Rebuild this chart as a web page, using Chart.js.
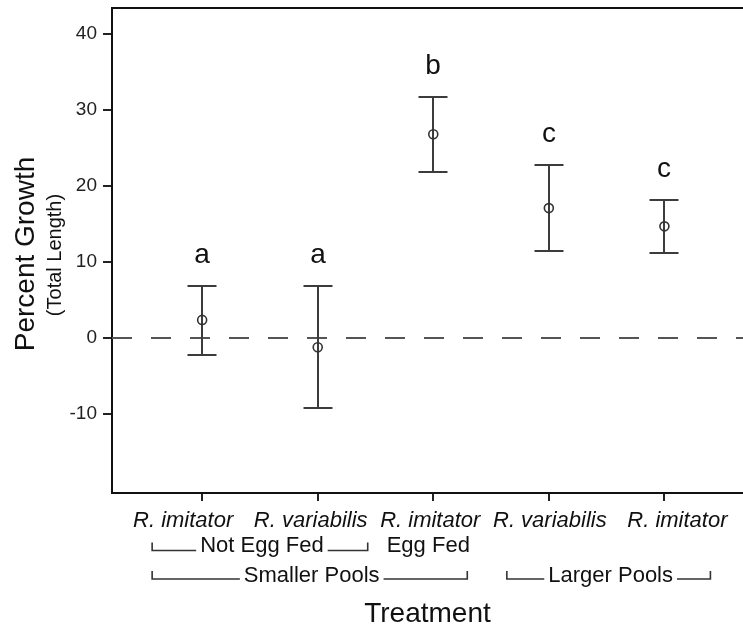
<!DOCTYPE html>
<html>
<head>
<meta charset="utf-8">
<script src="https://cdn.jsdelivr.net/npm/chart.js@4/dist/chart.umd.min.js"></script>
<style>
html,body{margin:0;padding:0;background:#fff;overflow:hidden;}
#wrap{position:relative;width:743px;height:625px;}
canvas{display:block;}
</style>
</head>
<body>
<div id="wrap"><canvas id="c"></canvas></div>
<script>
// ---- data ----
const treatments = ['R. imitator', 'R. variabilis', 'R. imitator', 'R. variabilis', 'R. imitator'];
const positions = [1, 2, 3, 4, 5];
const means = [2.4, -1.2, 26.8, 17.1, 14.7];
const upper = [6.9, 6.9, 31.7, 22.8, 18.1];
const lower = [-2.2, -9.2, 21.9, 11.4, 11.2];
const letters = ['a', 'a', 'b', 'c', 'c'];
const yTicks = [-10, 0, 10, 20, 30, 40];
const feedGroups = [
  { label: 'Not Egg Fed', first: 1, last: 2, bracket: true },
  { label: 'Egg Fed', first: 3, last: 3, bracket: false }
];
const poolGroups = [
  { label: 'Smaller Pools', first: 1, last: 3, bracket: true },
  { label: 'Larger Pools', first: 4, last: 5, bracket: true }
];
const yTitle = 'Percent Growth';
const ySubTitle = '(Total Length)';
const xTitle = 'Treatment';

// ---- layout / style (not data) ----
const FONT = "'Liberation Sans', Arial, sans-serif";
const labelDx = [-19, -7, -3, 1, 13];
const feedPad = [[-50, 50], [0, 0]];
const poolPad = [[-50, 34], [-42, 46]];
const feedTextDx = [2, -5];
const poolTextDx = [2, 2];

function zeroPad(s) {
  s.paddingLeft = 0; s.paddingRight = 0; s.paddingTop = 0; s.paddingBottom = 0;
}

const annot = {
  id: 'annot',
  beforeDatasetsDraw(chart) {
    const { ctx, chartArea: a, scales: { x, y } } = chart;
    ctx.save();
    // zero reference line
    ctx.strokeStyle = '#555';
    ctx.lineWidth = 2;
    ctx.setLineDash([20, 19]);
    const y0 = Math.round(y.getPixelForValue(0));
    ctx.beginPath();
    ctx.moveTo(a.left, y0);
    ctx.lineTo(a.right, y0);
    ctx.stroke();
    ctx.setLineDash([]);
    // error bars + letters
    ctx.strokeStyle = '#3c3c3c';
    ctx.lineWidth = 2;
    ctx.fillStyle = '#111';
    ctx.font = '28px ' + FONT;
    ctx.textAlign = 'center';
    ctx.textBaseline = 'alphabetic';
    positions.forEach((p, i) => {
      const px = Math.round(x.getPixelForValue(p));
      const yu = Math.round(y.getPixelForValue(upper[i]));
      const yl = Math.round(y.getPixelForValue(lower[i]));
      ctx.beginPath();
      ctx.moveTo(px, yu); ctx.lineTo(px, yl);
      ctx.moveTo(px - 14.5, yu); ctx.lineTo(px + 14.5, yu);
      ctx.moveTo(px - 14.5, yl); ctx.lineTo(px + 14.5, yl);
      ctx.stroke();
      ctx.fillText(letters[i], px, yu - 23);
    });
    ctx.restore();
  },
  afterDraw(chart) {
    const { ctx, chartArea: a, scales: { x } } = chart;
    ctx.save();
    ctx.fillStyle = '#111';
    ctx.textBaseline = 'alphabetic';
    ctx.textAlign = 'center';
    // category labels
    ctx.font = 'italic 22px ' + FONT;
    positions.forEach((p, i) => {
      ctx.fillText(treatments[i], x.getPixelForValue(p) + labelDx[i], 526.5);
    });
    // bracket rows
    ctx.font = '22px ' + FONT;
    ctx.strokeStyle = '#333';
    ctx.lineWidth = 1.6;
    function row(groups, pads, tdx, baseY, lineY) {
      groups.forEach((g, i) => {
        const l = x.getPixelForValue(g.first) + pads[i][0];
        const r = x.getPixelForValue(g.last) + pads[i][1];
        const cx = (l + r) / 2 + tdx[i];
        ctx.fillText(g.label, cx, baseY);
        if (g.bracket) {
          const w = ctx.measureText(g.label).width;
          const gap = 4;
          ctx.beginPath();
          ctx.moveTo(l, lineY - 8); ctx.lineTo(l, lineY); ctx.lineTo(cx - w / 2 - gap, lineY);
          ctx.moveTo(cx + w / 2 + gap, lineY); ctx.lineTo(r, lineY); ctx.lineTo(r, lineY - 8);
          ctx.stroke();
        }
      });
    }
    row(feedGroups, feedPad, feedTextDx, 552.3, 550.5);
    row(poolGroups, poolPad, poolTextDx, 581.7, 579);
    // x title
    ctx.font = '28px ' + FONT;
    ctx.fillText(xTitle, (a.left + a.right) / 2, 621.5);
    // y titles
    ctx.save();
    ctx.translate(33.5, 254);
    ctx.rotate(-Math.PI / 2);
    ctx.font = '28px ' + FONT;
    ctx.fillText(yTitle, 0, 0);
    ctx.restore();
    ctx.save();
    ctx.translate(60.8, 255);
    ctx.rotate(-Math.PI / 2);
    ctx.font = '20px ' + FONT;
    ctx.fillText(ySubTitle, 0, 0);
    ctx.restore();
    ctx.restore();
  }
};

new Chart(document.getElementById('c'), {
  type: 'scatter',
  data: {
    datasets: [{
      data: positions.map((p, i) => ({ x: p, y: means[i] })),
      pointRadius: 4.5,
      pointBorderWidth: 1.6,
      borderColor: '#333',
      backgroundColor: 'rgba(0,0,0,0)',
      pointHoverRadius: 4.5
    }]
  },
  options: {
    responsive: true,
    maintainAspectRatio: false,
    animation: false,
    layout: { autoPadding: false, padding: { top: 8, right: 0, bottom: 0, left: 0 } },
    plugins: { legend: { display: false }, tooltip: { enabled: false } },
    scales: {
      x: {
        type: 'linear',
        position: 'bottom',
        min: 0.22,
        max: 5.68,
        afterBuildTicks: s => { s.ticks = positions.map(v => ({ value: v })); },
        afterFit: s => { s.height = 132; zeroPad(s); },
        grid: { drawOnChartArea: false, drawTicks: true, tickLength: 8, color: '#222', lineWidth: 2 },
        border: { display: true, color: '#111', width: 2 },
        ticks: { display: false }
      },
      xTop: {
        type: 'linear',
        position: 'top',
        min: 0.22,
        max: 5.68,
        afterFit: s => { s.height = 0; zeroPad(s); },
        grid: { drawOnChartArea: false, drawTicks: false },
        border: { display: true, color: '#111', width: 2 },
        ticks: { display: false }
      },
      y: {
        type: 'linear',
        position: 'left',
        min: -20.35,
        max: 43.4,
        afterBuildTicks: s => { s.ticks = yTicks.map(v => ({ value: v })); },
        afterFit: s => { s.width = 112; zeroPad(s); },
        grid: { drawOnChartArea: false, drawTicks: true, tickLength: 9, color: '#222', lineWidth: 2 },
        border: { display: true, color: '#111', width: 2 },
        ticks: { color: '#222', padding: 6, font: { family: FONT, size: 19 } }
      }
    }
  },
  plugins: [annot]
});
</script>
</body>
</html>
